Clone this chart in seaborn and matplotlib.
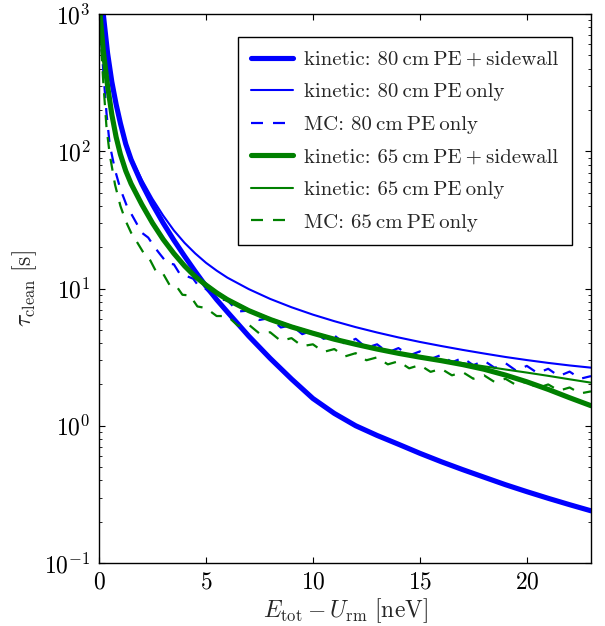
import matplotlib
matplotlib.use("Agg")
import matplotlib.pyplot as plt
import matplotlib.ticker as mticker
import numpy as np
import pandas as pd
import seaborn as sns

# ---- cleaning time tau_clean [s] vs. E_tot - U_rm [neV] ----
x_kin80 = [0.2, 0.4, 0.6, 0.8, 1.0, 1.25, 1.5, 2.0, 2.5, 3.0, 3.5, 4.0, 4.5, 5.0, 5.5,
           6, 7, 8, 9, 10, 11, 12, 13, 14, 15, 16, 17, 18, 19, 20, 21, 22, 23]

tau_80_sw = [1000, 520, 320, 220, 160, 113, 87, 58, 41, 30, 22.5, 17.2, 13.3, 10.4, 8.3,
             6.75, 4.5, 3.1, 2.19, 1.58, 1.23, 1.0, 0.85, 0.733, 0.63, 0.547, 0.479,
             0.422, 0.372, 0.331, 0.296, 0.266, 0.24]

tau_80_pe = [1000, 525, 325, 224, 163, 115, 90, 62, 45, 34, 26.5, 21.5, 18.0, 15.4, 13.5,
             12.0, 9.9, 8.4, 7.3, 6.45, 5.78, 5.23, 4.78, 4.4, 4.08, 3.81, 3.57, 3.36,
             3.17, 3.01, 2.87, 2.75, 2.65]

x_kin65 = [0.05, 0.2, 0.4, 0.6, 0.8, 1.0, 1.25, 1.5, 2.0, 2.5, 3.0, 3.5, 4.0, 4.5, 5.0,
           5.5, 6, 7, 8, 9, 10, 11, 12, 13, 14, 15, 16, 17, 18, 19, 20, 21, 22, 23]

tau_65_sw = [1000, 540, 300, 185, 127, 95, 72, 58, 41, 30, 22.8, 18.0, 14.6, 12.2, 10.6,
             9.3, 8.3, 6.9, 5.95, 5.25, 4.72, 4.27, 3.92, 3.62, 3.37, 3.16, 2.98, 2.79,
             2.58, 2.34, 2.09, 1.84, 1.6, 1.4]

tau_65_pe = [1000, 545, 305, 188, 129, 97, 73.5, 59, 41.8, 30.6, 23.2, 18.3, 14.8, 12.4,
             10.8, 9.45, 8.45, 7.0, 6.05, 5.33, 4.79, 4.33, 3.97, 3.67, 3.41, 3.2, 3.02,
             2.86, 2.71, 2.57, 2.44, 2.31, 2.18, 2.06]

x_mc80 = [0.05, 0.2, 0.35, 0.5, 0.75, 1.0, 1.3, 1.6, 2.0, 2.3, 2.6, 2.85, 3.2, 3.5,
          3.8, 4.1, 4.4, 4.7, 5.0, 5.5, 6.0, 6.5, 7.0, 7.5, 8.0, 8.5, 9.0, 9.5, 10,
          10.5, 11, 11.5, 12, 12.5, 13, 13.5, 14, 14.5, 15, 15.5, 16, 16.5, 17, 17.5,
          18, 18.5, 19, 19.5, 20, 20.5, 21, 21.5, 22, 22.5, 23]

tau_mc80 = [900, 380, 190, 112, 73, 53, 40, 33, 25.5, 23.5, 20.0, 17.8, 15.2, 15.0,
            12.6, 12.3, 11.8, 10.2, 9.9, 8.4, 8.2, 6.8, 6.9, 5.9, 6.1, 5.2, 5.4, 4.65,
            4.95, 4.3, 4.55, 3.95, 4.3, 3.7, 3.92, 3.42, 3.68, 3.25, 3.48, 3.06, 3.28,
            2.9, 3.12, 2.76, 2.98, 2.64, 2.86, 2.52, 2.73, 2.42, 2.6, 2.3, 2.48, 2.2, 2.3]

x_mc65 = [0.05, 0.2, 0.35, 0.5, 0.75, 1.0, 1.25, 1.5, 1.8, 2.1, 2.4, 2.7, 3.0, 3.3,
          3.6, 3.9, 4.25, 4.6, 5.0, 5.5, 6.0, 6.5, 7.0, 7.5, 8.0, 8.5, 9.0, 9.5, 10,
          10.5, 11, 11.5, 12, 12.5, 13, 13.5, 14, 14.5, 15, 15.5, 16, 16.5, 17, 17.5,
          18, 18.5, 19, 19.5, 20, 20.5, 21, 21.5, 22, 22.5, 23]

tau_mc65 = [800, 320, 150, 95, 57, 40, 31, 25.5, 21.5, 18.0, 16.0, 13.0, 12.8, 10.6,
            10.5, 9.0, 8.9, 7.4, 7.2, 6.3, 6.3, 5.35, 5.45, 4.7, 4.8, 4.15, 4.35, 3.8,
            3.92, 3.45, 3.62, 3.2, 3.38, 3.0, 3.15, 2.8, 2.95, 2.62, 2.77, 2.47, 2.6,
            2.33, 2.46, 2.2, 2.33, 2.08, 2.2, 1.98, 2.1, 1.88, 2.0, 1.8, 1.9, 1.72, 1.78]

labels = [
    "kinetic: 80\u2009cm\u2009PE\u2009+\u2009sidewall",
    "kinetic: 80\u2009cm\u2009PE\u2009only",
    "MC: 80\u2009cm\u2009PE\u2009only",
    "kinetic: 65\u2009cm\u2009PE\u2009+\u2009sidewall",
    "kinetic: 65\u2009cm\u2009PE\u2009only",
    "MC: 65\u2009cm\u2009PE\u2009only",
]

DASH = (0, (5.4, 4.5))
series = [
    (x_kin80, tau_80_sw, "#0000ff", 3.7, "-"),
    (x_kin80, tau_80_pe, "#0000ff", 1.5, "-"),
    (x_mc80, tau_mc80, "#0000ff", 1.6, DASH),
    (x_kin65, tau_65_sw, "#008000", 3.7, "-"),
    (x_kin65, tau_65_pe, "#008000", 1.5, "-"),
    (x_mc65, tau_mc65, "#008000", 1.6, DASH),
]

sns.set_style("ticks")
plt.rcParams.update({
    "font.family": ["cmr10", "DejaVu Serif"],
    "mathtext.fontset": "cm",
    "axes.formatter.use_mathtext": True,
    "axes.linewidth": 1.0,
    "axes.edgecolor": "black",
    "xtick.direction": "in",
    "ytick.direction": "in",
    "xtick.top": True,
    "ytick.right": True,
    "xtick.major.size": 4,
    "ytick.major.size": 4,
    "ytick.minor.size": 2,
    "xtick.major.width": 0.8,
    "ytick.major.width": 0.8,
    "ytick.minor.width": 0.6,
    "xtick.color": "black",
    "ytick.color": "black",
})

fig = plt.figure(figsize=(6.05, 6.26), dpi=100)
ax = fig.add_axes([99 / 605, 1 - 563 / 626, 492 / 605, 549 / 626])

for (xs, ys, col, lw, ls), lab in zip(series, labels):
    df = pd.DataFrame({"E": xs, "tau": ys})
    sns.lineplot(data=df, x="E", y="tau", ax=ax, color=col, linewidth=lw,
                 linestyle=ls, label=lab, estimator=None)

ax.set_yscale("log")
ax.set_xlim(0, 23)
ax.set_ylim(0.1, 1000)
ax.xaxis.set_major_locator(mticker.MultipleLocator(5))
ax.xaxis.set_major_formatter(mticker.FuncFormatter(lambda v, p: r"$%d$" % v))
ax.yaxis.set_major_formatter(
    mticker.FuncFormatter(lambda v, p: r"$10^{%d}$" % round(np.log10(v))))
ax.yaxis.set_minor_locator(mticker.LogLocator(base=10, subs=np.arange(2, 10)))
ax.yaxis.set_minor_formatter(mticker.NullFormatter())
ax.tick_params(axis="both", which="major", labelsize=17, pad=6)

ax.set_xlabel(r"$E_{\rm tot} - U_{\rm rm}\ [{\rm neV}]$", fontsize=17, labelpad=2)
ax.set_ylabel(r"$\tau_{\rm clean}\ [{\rm s}]$", fontsize=17, labelpad=4)

leg = ax.legend(loc="upper right", bbox_to_anchor=((572 - 99) / 492, (563 - 37) / 549),
                borderaxespad=0, fancybox=False, framealpha=1, edgecolor="black",
                fontsize=15, handlelength=2.0, handletextpad=0.56,
                labelspacing=0.67, borderpad=0.64)
leg.get_frame().set_linewidth(1.0)

fig.savefig("out.png", dpi=100)
